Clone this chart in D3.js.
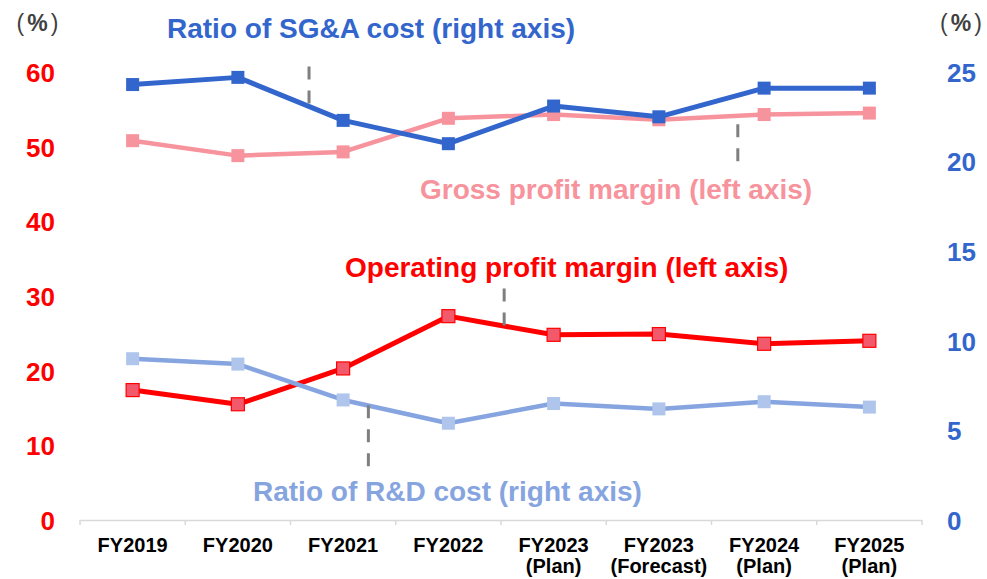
<!DOCTYPE html>
<html>
<head>
<meta charset="utf-8">
<script src="https://cdn.jsdelivr.net/npm/d3@7/dist/d3.min.js"></script>
<style>
  html, body { margin: 0; padding: 0; background: #fff; }
  svg { display: block; font-family: "Liberation Sans", Arial, sans-serif; }
</style>
</head>
<body>
<div id="chart"></div>
<script>
// categories (each label may have two lines)
var categories = [
    ["FY2019"], ["FY2020"], ["FY2021"], ["FY2022"],
    ["FY2023", "(Plan)"], ["FY2023", "(Forecast)"], ["FY2024", "(Plan)"], ["FY2025", "(Plan)"]
];

// left axis series (%)
var gross_margin = [50.8, 48.8, 49.3, 53.8, 54.3, 53.6, 54.3, 54.5];
var op_margin = [17.4, 15.5, 20.3, 27.3, 24.8, 24.9, 23.6, 24.0];

// right axis series (%)
var sga_ratio = [24.3, 24.7, 22.3, 21.0, 23.1, 22.5, 24.1, 24.1];
var rd_ratio = [9.0, 8.7, 6.7, 5.4, 6.5, 6.2, 6.6, 6.3];

var left_ticks = [0, 10, 20, 30, 40, 50, 60];
var right_ticks = [0, 5, 10, 15, 20, 25];

var width = 987,
    height = 579,
    plot = {left: 80, right: 922, top: 72, bottom: 520};

var svg = d3.select("#chart").append("svg")
    .attr("width", width)
    .attr("height", height);

var xScale = d3.scaleBand()
    .domain(d3.range(categories.length))
    .range([plot.left, plot.right]);
var xMid = function(i) { return xScale(i) + xScale.bandwidth() / 2; };

var yLeft = d3.scaleLinear().domain([0, 60]).range([plot.bottom, plot.top]);
var yRight = d3.scaleLinear().domain([0, 25]).range([plot.bottom, plot.top]);

// x axis line + boundary ticks
var xAxis = d3.axisBottom(xScale)
    .tickSizeInner(0)
    .tickSizeOuter(0)
    .tickFormat("");
var x_axis_elem = svg.append("g")
    .attr("transform", "translate(0," + plot.bottom + ")")
    .call(xAxis);
x_axis_elem.select(".domain").attr("stroke", "#d9d9d9").attr("stroke-width", 1.5);
x_axis_elem.selectAll(".tick").remove();

svg.append("g").selectAll("line")
    .data(d3.range(categories.length + 1))
    .enter().append("line")
        .attr("x1", function(d) { return d < categories.length ? xScale(d) : plot.right; })
        .attr("x2", function(d) { return d < categories.length ? xScale(d) : plot.right; })
        .attr("y1", plot.bottom)
        .attr("y2", plot.bottom + 5)
        .attr("stroke", "#d9d9d9")
        .attr("stroke-width", 1.5);

// category labels
var cat_labels = svg.append("g").selectAll("text")
    .data(categories)
    .enter().append("text")
        .attr("x", function(d, i) { return xMid(i); })
        .attr("y", 552)
        .attr("text-anchor", "middle")
        .style("font-size", "20px")
        .style("font-weight", "bold")
        .style("fill", "#000");
cat_labels.selectAll("tspan")
    .data(function(d) { return d; })
    .enter().append("tspan")
        .attr("x", function() { return d3.select(this.parentNode).attr("x"); })
        .attr("dy", function(d, i) { return i === 0 ? 0 : 21; })
        .text(function(d) { return d; });

// left y axis labels
var yAxisL = d3.axisLeft(yLeft).tickValues(left_ticks).tickSize(0).tickPadding(0);
var y_left_elem = svg.append("g")
    .attr("transform", "translate(55,0)")
    .call(yAxisL);
y_left_elem.select(".domain").remove();
y_left_elem.selectAll("text")
    .attr("dy", "0.36em")
    .style("font-size", "26px")
    .style("font-weight", "bold")
    .style("font-family", "'Liberation Sans', Arial, sans-serif")
    .style("fill", "#ff0000");

// right y axis labels
var yAxisR = d3.axisRight(yRight).tickValues(right_ticks).tickSize(0).tickPadding(0);
var y_right_elem = svg.append("g")
    .attr("transform", "translate(947,0)")
    .call(yAxisR);
y_right_elem.select(".domain").remove();
y_right_elem.selectAll("text")
    .attr("dy", "0.36em")
    .style("font-size", "26px")
    .style("font-weight", "bold")
    .style("font-family", "'Liberation Sans', Arial, sans-serif")
    .style("fill", "#3366cc");

// unit labels: thin parens, bold percent sign
[37.5, 961].forEach(function(cx) {
    var t = svg.append("text")
        .attr("x", cx)
        .attr("y", 31)
        .attr("text-anchor", "middle")
        .style("font-size", "23px")
        .style("fill", "#404040");
    t.append("tspan").style("font-weight", "normal").text("(");
    t.append("tspan").attr("dx", 3).style("font-weight", "bold").text("%");
    t.append("tspan").attr("dx", 3).style("font-weight", "normal").text(")");
});

// series
var series = [
    {name: "op", values: op_margin, y: yLeft, line: "#ff0000", marker: "#f25a6c", markerStroke: "#ff0000", width: 5},
    {name: "rd", values: rd_ratio, y: yRight, line: "#86a5e0", marker: "#b0c5ec", markerStroke: "none", width: 4.5},
    {name: "gross", values: gross_margin, y: yLeft, line: "#f7939c", marker: "#f7939c", markerStroke: "none", width: 4.5},
    {name: "sga", values: sga_ratio, y: yRight, line: "#3366cc", marker: "#3366cc", markerStroke: "none", width: 5}
];

var msize = 13;

var s = svg.selectAll(".series")
    .data(series)
    .enter().append("g")
        .attr("class", "series");

s.append("path")
    .attr("fill", "none")
    .attr("stroke", function(d) { return d.line; })
    .attr("stroke-width", function(d) { return d.width; })
    .attr("stroke-linejoin", "round")
    .attr("d", function(d) {
        return d3.line()
            .x(function(v, i) { return xMid(i); })
            .y(function(v) { return d.y(v); })(d.values);
    });

s.each(function(d) {
    d3.select(this).selectAll("rect")
        .data(d.values)
        .enter().append("rect")
            .attr("x", function(v, i) { return xMid(i) - msize / 2; })
            .attr("y", function(v) { return d.y(v) - msize / 2; })
            .attr("width", msize)
            .attr("height", msize)
            .attr("fill", d.marker)
            .attr("stroke", d.markerStroke)
            .attr("stroke-width", 1.2);
});

// annotation labels, leader lines given in category position + value
var annotations = [
    {text: "Ratio of SG&A cost (right axis)", x: 167, y: 38, color: "#3366cc",
        lead: {i: 1.676, y: yRight, from: 25.3, to: 23.2}},
    {text: "Gross profit margin (left axis)", x: 420, y: 199, color: "#f7939c",
        lead: {i: 5.75, y: yLeft, from: 53.0, to: 47.9}},
    {text: "Operating profit margin (left axis)", x: 345, y: 277, color: "#ff0000",
        lead: {i: 3.53, y: yLeft, from: 31.0, to: 25.9}},
    {text: "Ratio of R&D cost (right axis)", x: 253, y: 501, color: "#86a5e0",
        lead: {i: 2.24, y: yRight, from: 6.4, to: 2.9}}
];

svg.selectAll(".lead")
    .data(annotations)
    .enter().append("line")
        .attr("class", "lead")
        .attr("x1", function(d) { return plot.left + d.lead.i * xScale.bandwidth() + xScale.bandwidth() / 2; })
        .attr("x2", function(d) { return plot.left + d.lead.i * xScale.bandwidth() + xScale.bandwidth() / 2; })
        .attr("y1", function(d) { return d.lead.y(d.lead.from); })
        .attr("y2", function(d) { return d.lead.y(d.lead.to); })
        .attr("stroke", "#7f7f7f")
        .attr("stroke-width", 3)
        .style("stroke-dasharray", "13, 11");

svg.selectAll(".anno")
    .data(annotations)
    .enter().append("text")
        .attr("class", "anno")
        .attr("x", function(d) { return d.x; })
        .attr("y", function(d) { return d.y; })
        .style("font-size", "28px")
        .style("font-weight", "bold")
        .style("fill", function(d) { return d.color; })
        .text(function(d) { return d.text; });
</script>
</body>
</html>
